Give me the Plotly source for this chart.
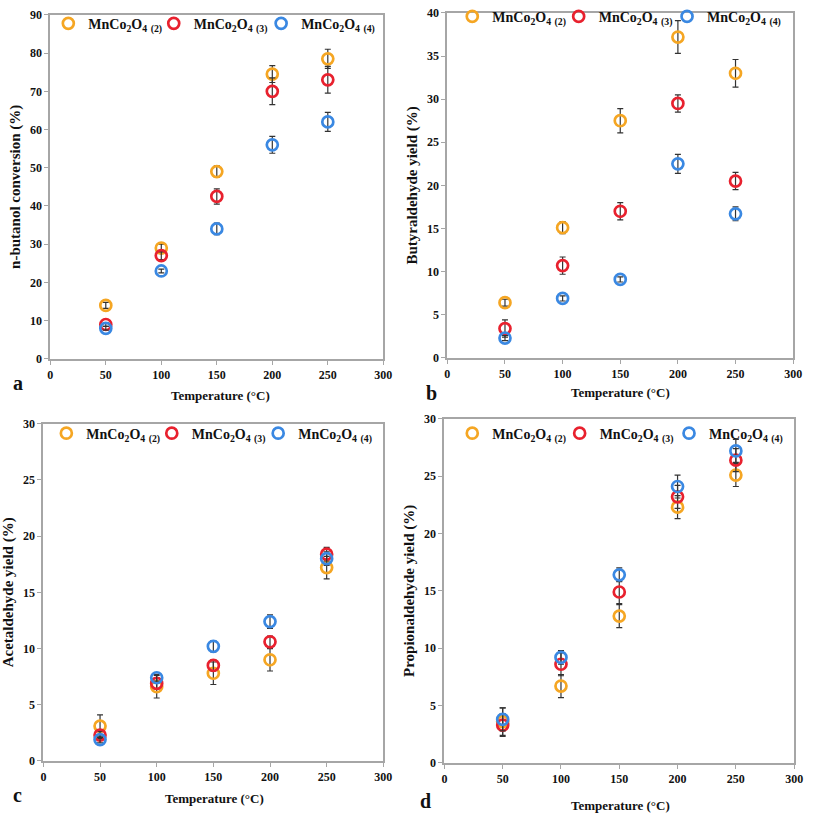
import plotly.graph_objects as go

temps = [50, 100, 150, 200, 250]
series_names = ["MnCo<sub>2</sub>O<sub>4</sub> <sub>(2)</sub>",
                "MnCo<sub>2</sub>O<sub>4</sub> <sub>(3)</sub>",
                "MnCo<sub>2</sub>O<sub>4</sub> <sub>(4)</sub>"]
colors = ["#F5A623", "#E8212E", "#3A88E2"]

# panel a: n-butanol conversion
a_s2 = [14.0, 29.0, 49.0, 74.5, 78.5]
a_s3 = [9.0, 27.0, 42.5, 70.0, 73.0]
a_s4 = [8.0, 23.0, 34.0, 56.0, 62.0]
a_e2 = [0.8, 1.0, 1.5, 2.2, 2.5]
a_e3 = [0.5, 1.0, 2.0, 3.5, 3.5]
a_e4 = [0.5, 0.5, 1.5, 2.2, 2.5]

# panel b: butyraldehyde yield
b_s2 = [6.4, 15.1, 27.5, 37.2, 33.0]
b_s3 = [3.4, 10.7, 17.0, 29.5, 20.5]
b_s4 = [2.3, 6.9, 9.1, 22.5, 16.7]
b_e2 = [0.4, 0.7, 1.4, 1.9, 1.6]
b_e3 = [1.0, 1.0, 1.0, 1.0, 1.0]
b_e4 = [0.3, 0.3, 0.3, 1.1, 0.8]

# panel c: acetaldehyde yield
c_s2 = [3.1, 6.6, 7.8, 9.0, 17.2]
c_s3 = [2.3, 6.9, 8.5, 10.6, 18.4]
c_s4 = [1.9, 7.4, 10.2, 12.4, 18.0]
c_e2 = [1.0, 1.0, 1.0, 1.0, 1.0]
c_e3 = [0.3, 0.5, 0.5, 0.5, 0.6]
c_e4 = [0.3, 0.3, 0.5, 0.6, 0.6]

# panel d: propionaldehyde yield
d_s2 = [3.6, 6.7, 12.8, 22.3, 25.1]
d_s3 = [3.3, 8.6, 14.9, 23.2, 26.4]
d_s4 = [3.8, 9.2, 16.4, 24.1, 27.2]
d_e2 = [1.2, 1.0, 1.0, 1.0, 1.0]
d_e3 = [1.0, 1.0, 1.0, 1.0, 1.0]
d_e4 = [1.0, 0.6, 0.6, 1.0, 1.0]

x_ticks = [0, 50, 100, 150, 200, 250, 300]
y_titles = ["n-butanol conversion (%)", "Butyraldehyde yield (%)",
            "Acetaldehyde yield (%)", "Propionaldehyde yield (%)"]
y_ranges = [90, 40, 30, 30]
y_dticks = [10, 5, 5, 5]
panel_letters = ["a", "b", "c", "d"]

panels = [
    ([a_s2, a_s3, a_s4], [a_e2, a_e3, a_e4]),
    ([b_s2, b_s3, b_s4], [b_e2, b_e3, b_e4]),
    ([c_s2, c_s3, c_s4], [c_e2, c_e3, c_e4]),
    ([d_s2, d_s3, d_s4], [d_e2, d_e3, d_e4]),
]

W, H = 813, 821
# plot-area pixel boxes (left, right, top, bottom)
boxes = [(48, 386, 8, 358), (451, 802, 6, 357), (41, 386, 424, 767), (448, 803, 419, 769)]
# legend anchor positions per panel (x list, y)
legend_marks = [([73, 180, 289], 17), ([483, 591, 701], 10),
                ([71, 178, 286], 434), ([483, 592, 703], 434)]
letter_pos = [(8, 383), (427, 393), (8, 802), (421, 808)]
xtitle_pos = [(221, 395), (627, 392), (215, 805), (627, 812)]

FONT = "Liberation Serif"
fig = go.Figure()
layout_updates = {}
leg_idx = 0

for i, (vals, errs) in enumerate(panels):
    xa = "x" if i == 0 else f"x{i+1}"
    ya = "y" if i == 0 else f"y{i+1}"
    for k in range(3):
        leg_idx += 1
        lg = "legend" if leg_idx == 1 else f"legend{leg_idx}"
        fig.add_trace(go.Scatter(
            x=temps, y=vals[k], mode="markers", name=series_names[k],
            xaxis=xa, yaxis=ya, legend=lg,
            marker=dict(symbol="circle-open", size=11, color=colors[k],
                        line=dict(width=2.7, color=colors[k])),
            error_y=dict(type="data", array=errs[k], visible=True,
                         color="#333333", thickness=1.2, width=3),
        ))
        mx = legend_marks[i][0][k]
        my = legend_marks[i][1]
        layout_updates[lg] = dict(
            x=(mx - 27) / W, y=1 - my / H, xanchor="left", yanchor="middle",
            bgcolor="rgba(0,0,0,0)", borderwidth=0, itemwidth=30,
            font=dict(family=FONT, size=14, color="#111", weight="bold"))
    l, r, t, b = boxes[i]
    xkey = "xaxis" if i == 0 else f"xaxis{i+1}"
    ykey = "yaxis" if i == 0 else f"yaxis{i+1}"
    layout_updates[xkey] = dict(
        domain=[l / W, r / W], anchor=ya, range=[0, 300],
        tickvals=x_ticks, showgrid=False, zeroline=False,
        showline=True, linecolor="#a6a6a6", linewidth=2, mirror=True,
        ticks="outside", ticklen=4, tickcolor="#a6a6a6",
        tickfont=dict(family=FONT, size=12, color="#111", weight="bold"))
    layout_updates[ykey] = dict(
        domain=[1 - b / H, 1 - t / H], anchor=xa, range=[0, y_ranges[i]],
        dtick=y_dticks[i], showgrid=False, zeroline=False,
        showline=True, linecolor="#a6a6a6", linewidth=2, mirror=True,
        ticks="outside", ticklen=4, tickcolor="#a6a6a6",
        tickfont=dict(family=FONT, size=12, color="#111", weight="bold"),
        title=dict(text=y_titles[i],
                   font=dict(family=FONT, size=15, color="#111", weight="bold"),
                   standoff=6))
    fig.add_annotation(text="<b>" + panel_letters[i] + "</b>", xref="paper", yref="paper",
                       x=letter_pos[i][0] / W, y=1 - letter_pos[i][1] / H,
                       xanchor="left", yanchor="middle", showarrow=False,
                       font=dict(family=FONT, size=20, color="#111"))
    fig.add_annotation(text="<b>Temperature (°C)</b>", xref="paper", yref="paper",
                       x=xtitle_pos[i][0] / W, y=1 - xtitle_pos[i][1] / H,
                       xanchor="center", yanchor="middle", showarrow=False,
                       font=dict(family=FONT, size=13, color="#111"))

fig.update_layout(**layout_updates)
fig.update_layout(width=W, height=H, margin=dict(l=0, r=0, t=0, b=0),
                  paper_bgcolor="white", plot_bgcolor="white", showlegend=True)
fig.write_html("out.html", config={"displayModeBar": False})

with open("out.html", "r", encoding="utf-8") as f:
    html = f.read()
html = html.replace("<body>", '<body style="margin:0;padding:0;overflow:hidden">', 1)
with open("out.html", "w", encoding="utf-8") as f:
    f.write(html)
